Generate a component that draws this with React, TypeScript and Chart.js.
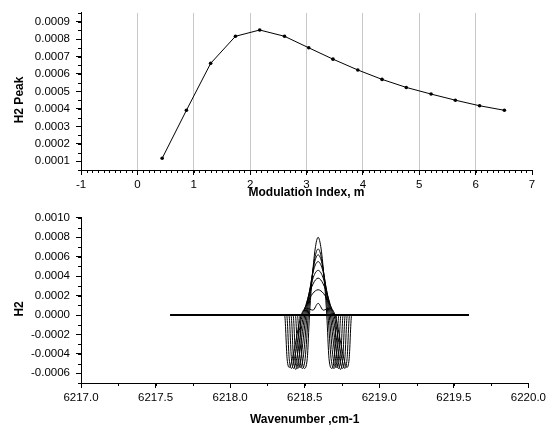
import React, { useEffect, useRef } from 'react';
import { Chart, registerables } from 'chart.js';

Chart.register(...registerables);

// ---------- Top panel data ----------
const mIndex = [0.44, 0.87, 1.3, 1.74, 2.17, 2.61, 3.04, 3.47, 3.91, 4.34, 4.77, 5.21, 5.64, 6.07, 6.51];
const h2Peak = [0.000117, 0.000392, 0.000661, 0.000816, 0.000852, 0.000816, 0.00075, 0.000685, 0.000623, 0.000569, 0.000523, 0.000485, 0.00045, 0.000418, 0.000392];

const topXTicks = [-1, 0, 1, 2, 3, 4, 5, 6, 7];
const topYTicks = [0.0001, 0.0002, 0.0003, 0.0004, 0.0005, 0.0006, 0.0007, 0.0008, 0.0009];

// ---------- Bottom panel data ----------
const bottomXTicks = [6217.0, 6217.5, 6218.0, 6218.5, 6219.0, 6219.5, 6220.0];
const bottomYTicks = [-0.0006, -0.0004, -0.0002, 0.0, 0.0002, 0.0004, 0.0006, 0.0008, 0.001];

const baseline = [[6217.6, 0], [6219.6, 0]];

const h2Curve1 = [[6217.6, 0], [6218.465, 0], [6218.482, -0.00045], [6218.497, -0.00055], [6218.517, -0.00045], [6218.532, 0], [6218.549, 0.00036], [6218.57, 0.00068], [6218.59, 0.0008], [6218.61, 0.00068], [6218.631, 0.00036], [6218.648, 0], [6218.663, -0.00045], [6218.683, -0.00055], [6218.698, -0.00045], [6218.715, 0], [6219.6, 0]];
const h2Curve2 = [[6217.6, 0], [6218.451, 0], [6218.468, -0.00045], [6218.483, -0.00055], [6218.503, -0.00045], [6218.524, 0], [6218.544, 0.00031], [6218.567, 0.00058], [6218.59, 0.00068], [6218.613, 0.00058], [6218.636, 0.00031], [6218.656, 0], [6218.677, -0.00045], [6218.697, -0.00055], [6218.712, -0.00045], [6218.729, 0], [6219.6, 0]];
const h2Curve3 = [[6217.6, 0], [6218.437, 0], [6218.454, -0.00045], [6218.469, -0.00054], [6218.489, -0.00045], [6218.516, 0], [6218.538, 0.00028], [6218.564, 0.00053], [6218.59, 0.00062], [6218.616, 0.00053], [6218.642, 0.00028], [6218.664, 0], [6218.691, -0.00045], [6218.711, -0.00054], [6218.726, -0.00045], [6218.743, 0], [6219.6, 0]];
const h2Curve4 = [[6217.6, 0], [6218.422, 0], [6218.439, -0.00045], [6218.454, -0.00055], [6218.474, -0.00045], [6218.508, 0], [6218.533, 0.00025], [6218.561, 0.00047], [6218.59, 0.00055], [6218.619, 0.00047], [6218.647, 0.00025], [6218.672, 0], [6218.706, -0.00045], [6218.726, -0.00055], [6218.741, -0.00045], [6218.758, 0], [6219.6, 0]];
const h2Curve5 = [[6217.6, 0], [6218.408, 0], [6218.425, -0.00045], [6218.44, -0.00056], [6218.46, -0.00045], [6218.5, 0], [6218.527, 0.00021], [6218.558, 0.00039], [6218.59, 0.00046], [6218.622, 0.00039], [6218.653, 0.00021], [6218.68, 0], [6218.72, -0.00045], [6218.74, -0.00056], [6218.755, -0.00045], [6218.772, 0], [6219.6, 0]];
const h2Curve6 = [[6217.6, 0], [6218.394, 0], [6218.411, -0.00045], [6218.426, -0.00055], [6218.446, -0.00045], [6218.492, 0], [6218.521, 0.00017], [6218.556, 0.00032], [6218.59, 0.00038], [6218.624, 0.00032], [6218.659, 0.00017], [6218.688, 0], [6218.734, -0.00045], [6218.754, -0.00055], [6218.769, -0.00045], [6218.786, 0], [6219.6, 0]];
const h2Curve7 = [[6217.6, 0], [6218.379, 0], [6218.396, -0.00045], [6218.411, -0.00055], [6218.431, -0.00045], [6218.484, 0], [6218.516, 0.00012], [6218.553, 0.00022], [6218.59, 0.00026], [6218.627, 0.00022], [6218.664, 0.00012], [6218.696, 0], [6218.749, -0.00045], [6218.769, -0.00055], [6218.784, -0.00045], [6218.801, 0], [6219.6, 0]];
const h2Curve8 = [[6217.6, 0], [6218.365, 0], [6218.382, -0.00045], [6218.397, -0.00054], [6218.417, -0.00045], [6218.477, 0], [6218.515, 0.00007], [6218.555, 0.00005], [6218.59, 0.00012], [6218.625, 0.00005], [6218.665, 0.00007], [6218.703, 0], [6218.763, -0.00045], [6218.783, -0.00054], [6218.798, -0.00045], [6218.815, 0], [6219.6, 0]];

const h2Curves = [h2Curve1, h2Curve2, h2Curve3, h2Curve4, h2Curve5, h2Curve6, h2Curve7, h2Curve8];

// ---------- Plugins ----------
const FONT_FAMILY = '"Liberation Sans", Arial, Helvetica, sans-serif';

const minorTicksPlugin = {
  id: 'minorTicks',
  afterDraw(chart: any, _args: any, opts: any) {
    const { ctx, chartArea, scales } = chart;
    const xs = scales.x;
    const ys = scales.y;
    ctx.save();
    ctx.strokeStyle = '#000';
    ctx.lineWidth = 1;
    ctx.beginPath();
    if (opts.xStep) {
      const n = Math.round((xs.max - xs.min) / opts.xStep);
      for (let i = 0; i <= n; i++) {
        const p = Math.round(xs.getPixelForValue(xs.min + i * opts.xStep)) + 0.5;
        ctx.moveTo(p, chartArea.bottom);
        ctx.lineTo(p, chartArea.bottom + opts.len);
      }
    }
    if (opts.yStep) {
      const n = Math.round((ys.max - ys.min) / opts.yStep);
      for (let i = 0; i <= n; i++) {
        const p = Math.round(ys.getPixelForValue(ys.min + i * opts.yStep)) + 0.5;
        ctx.moveTo(chartArea.left - opts.len, p);
        ctx.lineTo(chartArea.left, p);
      }
    }
    ctx.stroke();
    ctx.restore();
  },
};

const axisTitlesPlugin = {
  id: 'axisTitles',
  afterDraw(chart: any, _args: any, opts: any) {
    const { ctx, chartArea } = chart;
    ctx.save();
    ctx.fillStyle = '#000';
    ctx.font = `bold 12px ${FONT_FAMILY}`;
    ctx.textAlign = 'center';
    ctx.textBaseline = 'middle';
    ctx.fillText(opts.xText, (chartArea.left + chartArea.right) / 2, chartArea.bottom + opts.xOffset);
    ctx.translate(opts.yX, (chartArea.top + chartArea.bottom) / 2 + opts.yShift);
    ctx.rotate(-Math.PI / 2);
    ctx.fillText(opts.yText, 0, 0);
    ctx.restore();
  },
};

const tickFont = { family: FONT_FAMILY, size: 11.5 };

function axisCommon(tickValues: number[], fmt: (v: number) => string) {
  return {
    type: 'linear' as const,
    afterBuildTicks: (scale: any) => {
      scale.ticks = tickValues.map((v) => ({ value: v }));
    },
    ticks: {
      color: '#000',
      font: tickFont,
      autoSkip: false,
      maxRotation: 0,
      callback: (v: any) => fmt(Number(v)),
    },
    border: { display: true, color: '#000', width: 1 },
  };
}

function TopChart() {
  const ref = useRef<HTMLCanvasElement>(null);
  useEffect(() => {
    const chart = new Chart(ref.current as HTMLCanvasElement, {
      type: 'scatter',
      data: {
        datasets: [
          {
            data: mIndex.map((x, i) => ({ x, y: h2Peak[i] })),
            showLine: true,
            borderColor: '#000',
            backgroundColor: '#000',
            borderWidth: 1,
            pointRadius: 1.8,
            pointBorderWidth: 0,
            tension: 0,
          },
        ],
      },
      options: {
        responsive: false,
        animation: false,
        devicePixelRatio: 1,
        layout: { padding: { top: 5, left: 0, right: 17, bottom: 0 } },
        plugins: {
          legend: { display: false },
          tooltip: { enabled: false },
          minorTicks: { xStep: 0.1, yStep: 0.00005, len: 3 },
          axisTitles: { xText: 'Modulation Index, m', xOffset: 23, yText: 'H2 Peak', yX: 20, yShift: 8.5 },
        } as any,
        scales: {
          x: {
            ...axisCommon(topXTicks, (v) => String(Math.round(v))),
            min: -1,
            max: 7,
            afterFit: (s: any) => { s.height = 35; },
            grid: {
              drawOnChartArea: true,
              drawTicks: true,
              tickLength: 5,
              tickColor: '#000',
              color: (c: any) => (c.tick && (c.tick.value === -1 || c.tick.value === 7) ? 'rgba(0,0,0,0)' : '#c8c8c8'),
              lineWidth: 1,
            },
            ticks: { ...axisCommon(topXTicks, (v) => String(Math.round(v))).ticks, padding: 3 },
          },
          y: {
            ...axisCommon(topYTicks, (v) => v.toFixed(4)),
            min: 0.00005,
            max: 0.00095,
            afterFit: (s: any) => { s.width = 81; },
            grid: { drawOnChartArea: false, drawTicks: true, tickLength: 5, tickColor: '#000' },
            ticks: { ...axisCommon(topYTicks, (v) => v.toFixed(4)).ticks, padding: 6 },
          },
        },
      } as any,
      plugins: [minorTicksPlugin, axisTitlesPlugin],
    });
    return () => chart.destroy();
  }, []);
  return <canvas ref={ref} width={549} height={205} style={{ position: 'absolute', left: 0, top: 0, width: 549, height: 205 }} />;
}

function BottomChart() {
  const ref = useRef<HTMLCanvasElement>(null);
  useEffect(() => {
    const datasets: any[] = h2Curves.map((curve) => ({
      data: curve.map(([x, y]) => ({ x, y })),
      showLine: true,
      borderColor: '#000',
      borderWidth: 1,
      pointRadius: 0,
      cubicInterpolationMode: 'monotone',
    }));
    datasets.push({
      data: baseline.map(([x, y]) => ({ x, y })),
      showLine: true,
      borderColor: '#000',
      borderWidth: 2,
      pointRadius: 0,
    });
    const chart = new Chart(ref.current as HTMLCanvasElement, {
      type: 'scatter',
      data: { datasets },
      options: {
        responsive: false,
        animation: false,
        devicePixelRatio: 1,
        layout: { padding: { top: 12, left: 0, right: 17, bottom: 0 } },
        plugins: {
          legend: { display: false },
          tooltip: { enabled: false },
          minorTicks: { xStep: 0.25, yStep: 0.0001, len: 3 },
          axisTitles: { xText: 'Wavenumber ,cm-1', xOffset: 36.5, yText: 'H2', yX: 20, yShift: 8.5 },
        } as any,
        scales: {
          x: {
            ...axisCommon(bottomXTicks, (v) => v.toFixed(1)),
            min: 6217,
            max: 6220,
            afterFit: (s: any) => { s.height = 50; },
            grid: { drawOnChartArea: false, drawTicks: true, tickLength: 5, tickColor: '#000' },
            ticks: { ...axisCommon(bottomXTicks, (v) => v.toFixed(1)).ticks, padding: 3 },
          },
          y: {
            ...axisCommon(bottomYTicks, (v) => v.toFixed(4)),
            min: -0.0007,
            max: 0.001,
            afterFit: (s: any) => { s.width = 81; },
            grid: { drawOnChartArea: false, drawTicks: true, tickLength: 5, tickColor: '#000' },
            ticks: { ...axisCommon(bottomYTicks, (v) => v.toFixed(4)).ticks, padding: 6 },
          },
        },
      } as any,
      plugins: [minorTicksPlugin, axisTitlesPlugin],
    });
    return () => chart.destroy();
  }, []);
  return <canvas ref={ref} width={549} height={228} style={{ position: 'absolute', left: 0, top: 205, width: 549, height: 228 }} />;
}

export default function App() {
  return (
    <div style={{ position: 'absolute', left: 0, top: 0, width: 549, height: 433, background: '#fff' }}>
      <TopChart />
      <BottomChart />
    </div>
  );
}
